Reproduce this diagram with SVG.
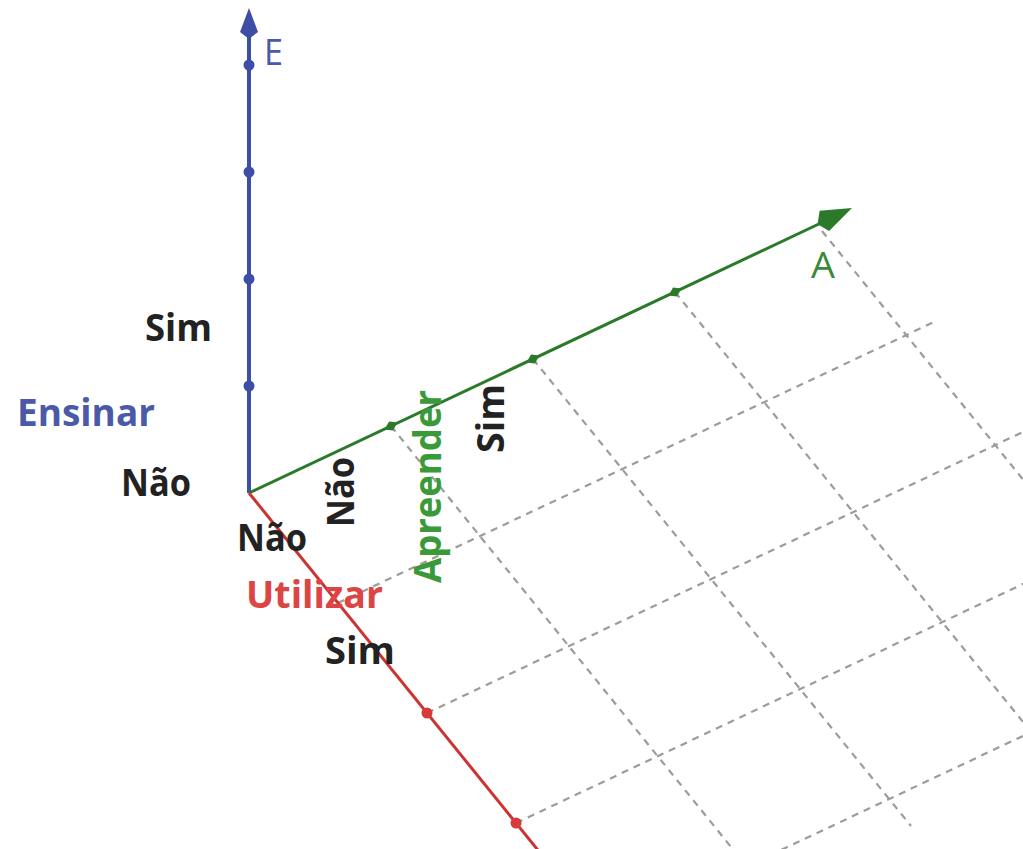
<svg xmlns="http://www.w3.org/2000/svg" width="1023" height="849" viewBox="0 0 1023 849">
<style>
.grid{stroke:#9c9c9c;stroke-width:2.2;stroke-dasharray:7 6;fill:none}
.lbl{font-family:"Open Sans","Liberation Sans",Arial,sans-serif;font-weight:700;font-size:37px}
.dark{fill:#222}
.reg{font-family:"Open Sans","Liberation Sans",Arial,sans-serif;font-weight:500;font-size:37px}
</style>
<rect width="1023" height="849" fill="#fff"/>
<g id="grid">
<line class="grid" x1="391" y1="426" x2="769" y2="894"/>
<line class="grid" x1="533" y1="359" x2="911" y2="826"/>
<line class="grid" x1="675" y1="292" x2="1053" y2="759"/>
<line class="grid" x1="822" y1="231" x2="1195" y2="692"/>
<line class="grid" x1="338" y1="603" x2="934" y2="322"/>
<line class="grid" x1="427" y1="713" x2="1023" y2="432"/>
<line class="grid" x1="516" y1="823" x2="1112" y2="542"/>
<line class="grid" x1="605" y1="933" x2="1201" y2="652"/>
</g>
<g id="axis-E">
<line x1="249" y1="493" x2="249" y2="20" stroke="#3c4ea6" stroke-width="4"/>
<path d="M249,8 L258,32 L249,39 L240,32 Z" fill="#3c4ea6"/>
<circle cx="249" cy="386" r="5.5" fill="#3c4ea6"/>
<circle cx="249" cy="279" r="5.5" fill="#3c4ea6"/>
<circle cx="249" cy="172" r="5.5" fill="#3c4ea6"/>
<circle cx="249" cy="65" r="5.5" fill="#3c4ea6"/>
</g>
<g id="axis-A">
<line x1="249" y1="493" x2="840" y2="214" stroke="#2a7a2a" stroke-width="3"/>
<path d="M852,208 L829.1,230.9 L817.6,224.2 L819.6,210.8 Z" fill="#2a7a2a"/>
<g fill="#2a7a2a">
<path d="M384.6,429.6 L389,421.4 L397.4,422.4 L393,430.6 Z"/>
<path d="M526.6,362.6 L531,354.4 L539.4,355.4 L535,363.6 Z"/>
<path d="M668.6,295.6 L673,287.4 L681.4,288.4 L677,296.6 Z"/>
</g>
</g>
<g id="axis-U">
<line x1="249" y1="493" x2="605" y2="933" stroke="#cc3333" stroke-width="3"/>
<circle cx="427" cy="713" r="5.5" fill="#d63a3a"/>
<circle cx="516" cy="823" r="5.5" fill="#d63a3a"/>
</g>
<g id="labels">
<text class="reg" x="264" y="65" fill="#4a5aa8" textLength="19" lengthAdjust="spacingAndGlyphs">E</text>
<text class="reg" x="811" y="278" fill="#3a8a3a" textLength="24" lengthAdjust="spacingAndGlyphs">A</text>
<text class="lbl dark" x="145" y="341" textLength="67" lengthAdjust="spacingAndGlyphs">Sim</text>
<text class="lbl" x="17" y="426" fill="#4a5aa8" textLength="138" lengthAdjust="spacingAndGlyphs">Ensinar</text>
<text class="lbl dark" x="121" y="496" textLength="70" lengthAdjust="spacingAndGlyphs">Não</text>
<text class="lbl dark" x="237" y="551" textLength="70" lengthAdjust="spacingAndGlyphs">Não</text>
<text class="lbl" x="246" y="608" fill="#dd4444" textLength="137" lengthAdjust="spacingAndGlyphs">Utilizar</text>
<text class="lbl dark" x="325" y="664" textLength="70" lengthAdjust="spacingAndGlyphs">Sim</text>
<text class="lbl dark" transform="translate(354,527) rotate(-90)" textLength="70" lengthAdjust="spacingAndGlyphs">Não</text>
<text class="lbl" transform="translate(441,583) rotate(-90)" fill="#3a9a3a" textLength="193" lengthAdjust="spacingAndGlyphs">Apreender</text>
<text class="lbl dark" transform="translate(504,453) rotate(-90)" textLength="69" lengthAdjust="spacingAndGlyphs">Sim</text>
</g>
</svg>
